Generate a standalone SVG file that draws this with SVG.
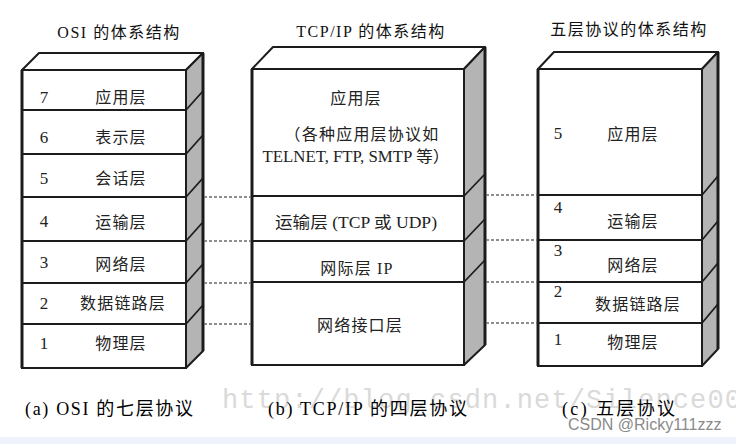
<svg xmlns="http://www.w3.org/2000/svg" width="736" height="444" viewBox="0 0 736 444">
<style>
.front{fill:#ffffff;stroke:#1c1c1c;stroke-width:2}
.top{fill:#ffffff;stroke:#1c1c1c;stroke-width:2;stroke-linejoin:round}
.side{fill:#b4b4b4;stroke:#1c1c1c;stroke-width:2;stroke-linejoin:round}
.edge{stroke:#1c1c1c;stroke-width:3;fill:none}
.div{stroke:#1c1c1c;stroke-width:2;fill:none}
.diag{stroke:#1c1c1c;stroke-width:1.8;fill:none}
.t{font-family:"Liberation Serif","Noto Sans CJK SC",serif;font-size:16px;fill:#222;letter-spacing:1.2px}
.n{font-family:"Liberation Serif","Noto Sans CJK SC",serif;font-size:17px;fill:#222;text-anchor:middle}
.m{text-anchor:middle}
.title{font-family:"Liberation Serif","Noto Sans CJK SC",serif;font-size:16px;fill:#111;letter-spacing:1.5px;text-anchor:middle}
.cap{font-family:"Liberation Serif","Noto Sans CJK SC",serif;font-size:18px;fill:#000}
.dash{stroke:#6a6a6a;stroke-width:1.3;stroke-dasharray:3 2;fill:none}
.wm{font-family:"Liberation Mono","DejaVu Sans Mono",monospace;font-size:27px;fill:#dadada}
</style>
<rect x="0" y="0" width="736" height="444" fill="#ffffff"/>
<rect x="0" y="437" width="736" height="7" fill="#eef3fb"/>

<text class="wm" x="222" y="408" textLength="519" lengthAdjust="spacing">http://blog.csdn.net/Silence00</text>

<g id="osi">
  <text class="title" x="119" y="38">OSI 的体系结构</text>
  <polygon class="top" points="22,70 39,53 203,53 186,70"/>
  <polygon class="side" points="186,70 203,53 203,351 186,368"/>
  <line class="edge" x1="203" y1="53" x2="203" y2="351"/>
  <rect class="front" x="22" y="70" width="164" height="298"/>
  <line class="edge" x1="22" y1="70" x2="22" y2="368"/>
  <g id="osi-7"><line class="div" x1="22" y1="110" x2="186" y2="110"/><line class="diag" x1="186" y1="110" x2="203" y2="91"/><text class="n" x="44" y="103">7</text><text class="t m" x="121" y="103">应用层</text></g>
  <g id="osi-6"><line class="div" x1="22" y1="154" x2="186" y2="154"/><line class="diag" x1="186" y1="154" x2="203" y2="135"/><text class="n" x="44" y="143">6</text><text class="t m" x="121" y="143">表示层</text></g>
  <g id="osi-5"><line class="div" x1="22" y1="197" x2="186" y2="197"/><line class="diag" x1="186" y1="197" x2="203" y2="178"/><text class="n" x="44" y="184">5</text><text class="t m" x="121" y="184">会话层</text></g>
  <g id="osi-4"><line class="div" x1="22" y1="241" x2="186" y2="241"/><line class="diag" x1="186" y1="241" x2="203" y2="222"/><text class="n" x="44" y="227">4</text><text class="t m" x="121" y="228">运输层</text></g>
  <g id="osi-3"><line class="div" x1="22" y1="283" x2="186" y2="283"/><line class="diag" x1="186" y1="283" x2="203" y2="264"/><text class="n" x="44" y="268">3</text><text class="t m" x="121" y="270">网络层</text></g>
  <g id="osi-2"><line class="div" x1="22" y1="324" x2="186" y2="324"/><line class="diag" x1="186" y1="324" x2="203" y2="305"/><text class="n" x="44" y="309">2</text><text class="t m" x="123" y="309">数据链路层</text></g>
  <g id="osi-1"><text class="n" x="44" y="349">1</text><text class="t m" x="121" y="349">物理层</text></g>
</g>

<g id="tcpip">
  <text class="title" x="371" y="37">TCP/IP 的体系结构</text>
  <polygon class="top" points="252,69 273,47 485,47 464,69"/>
  <polygon class="side" points="464,69 485,47 485,345 464,365"/>
  <line class="edge" x1="485" y1="47" x2="485" y2="345"/>
  <rect class="front" x="252" y="69" width="212" height="296"/>
  <line class="edge" x1="252" y1="69" x2="252" y2="365"/>
  <g id="tcp-app"><line class="div" x1="252" y1="196" x2="464" y2="196"/><line class="diag" x1="464" y1="196" x2="485" y2="174"/>
    <text class="t m" x="356" y="104">应用层</text>
    <text class="t m" x="362" y="140">（各种应用层协议如</text>
    <text class="t m" x="356" y="162" textLength="187" lengthAdjust="spacingAndGlyphs" style="letter-spacing:0">TELNET, FTP, SMTP 等）</text></g>
  <g id="tcp-transport"><line class="div" x1="252" y1="241" x2="464" y2="241"/><line class="diag" x1="464" y1="241" x2="485" y2="219"/><text class="t m" x="356" y="228" textLength="162" lengthAdjust="spacingAndGlyphs" style="letter-spacing:0">运输层 (TCP 或 UDP)</text></g>
  <g id="tcp-ip"><line class="div" x1="252" y1="282" x2="464" y2="282"/><line class="diag" x1="464" y1="282" x2="485" y2="260"/><text class="t m" x="357" y="274">网际层 IP</text></g>
  <g id="tcp-link"><text class="t m" x="360" y="331">网络接口层</text></g>
</g>

<g id="five">
  <text class="title" x="629" y="35">五层协议的体系结构</text>
  <polygon class="top" points="538,69 554,52 718,52 702,69"/>
  <polygon class="side" points="702,69 718,52 718,349 702,366"/>
  <line class="edge" x1="718" y1="52" x2="718" y2="349"/>
  <rect class="front" x="538" y="69" width="164" height="297"/>
  <line class="edge" x1="538" y1="69" x2="538" y2="366"/>
  <g id="five-5"><line class="div" x1="538" y1="195" x2="702" y2="195"/><line class="diag" x1="702" y1="195" x2="718" y2="176"/><text class="n" x="558" y="139">5</text><text class="t m" x="633" y="140">应用层</text></g>
  <g id="five-4"><line class="div" x1="538" y1="240" x2="702" y2="240"/><line class="diag" x1="702" y1="240" x2="718" y2="221"/><text class="n" x="558" y="213">4</text><text class="t m" x="633" y="227">运输层</text></g>
  <g id="five-3"><line class="div" x1="538" y1="282" x2="702" y2="282"/><line class="diag" x1="702" y1="282" x2="718" y2="263"/><text class="n" x="558" y="256">3</text><text class="t m" x="633" y="271">网络层</text></g>
  <g id="five-2"><line class="div" x1="538" y1="323" x2="702" y2="323"/><line class="diag" x1="702" y1="323" x2="718" y2="304"/><text class="n" x="558" y="297">2</text><text class="t m" x="638" y="310">数据链路层</text></g>
  <g id="five-1"><text class="n" x="558" y="345">1</text><text class="t m" x="633" y="348">物理层</text></g>
</g>

<g id="connectors">
  <line class="dash" x1="204" y1="197" x2="251" y2="197"/>
  <line class="dash" x1="204" y1="241" x2="251" y2="241"/>
  <line class="dash" x1="204" y1="283" x2="251" y2="283"/>
  <line class="dash" x1="204" y1="324" x2="251" y2="324"/>
  <line class="dash" x1="486" y1="195" x2="537" y2="195"/>
  <line class="dash" x1="486" y1="240" x2="537" y2="240"/>
  <line class="dash" x1="486" y1="282" x2="537" y2="282"/>
  <line class="dash" x1="486" y1="323" x2="537" y2="323"/>
</g>

<g id="captions">
  <text class="cap" x="25" y="415" textLength="168" lengthAdjust="spacing">(a) OSI 的七层协议</text>
  <text class="cap" x="268" y="415" textLength="199" lengthAdjust="spacing">(b) TCP/IP 的四层协议</text>
  <text class="cap" x="562" y="415" textLength="113" lengthAdjust="spacing">(c) 五层协议</text>
</g>
<text x="568" y="430" font-family="'Liberation Sans',Arial,sans-serif" font-size="16" fill="#8a8a8a">CSDN @Ricky111zzz</text>
</svg>
